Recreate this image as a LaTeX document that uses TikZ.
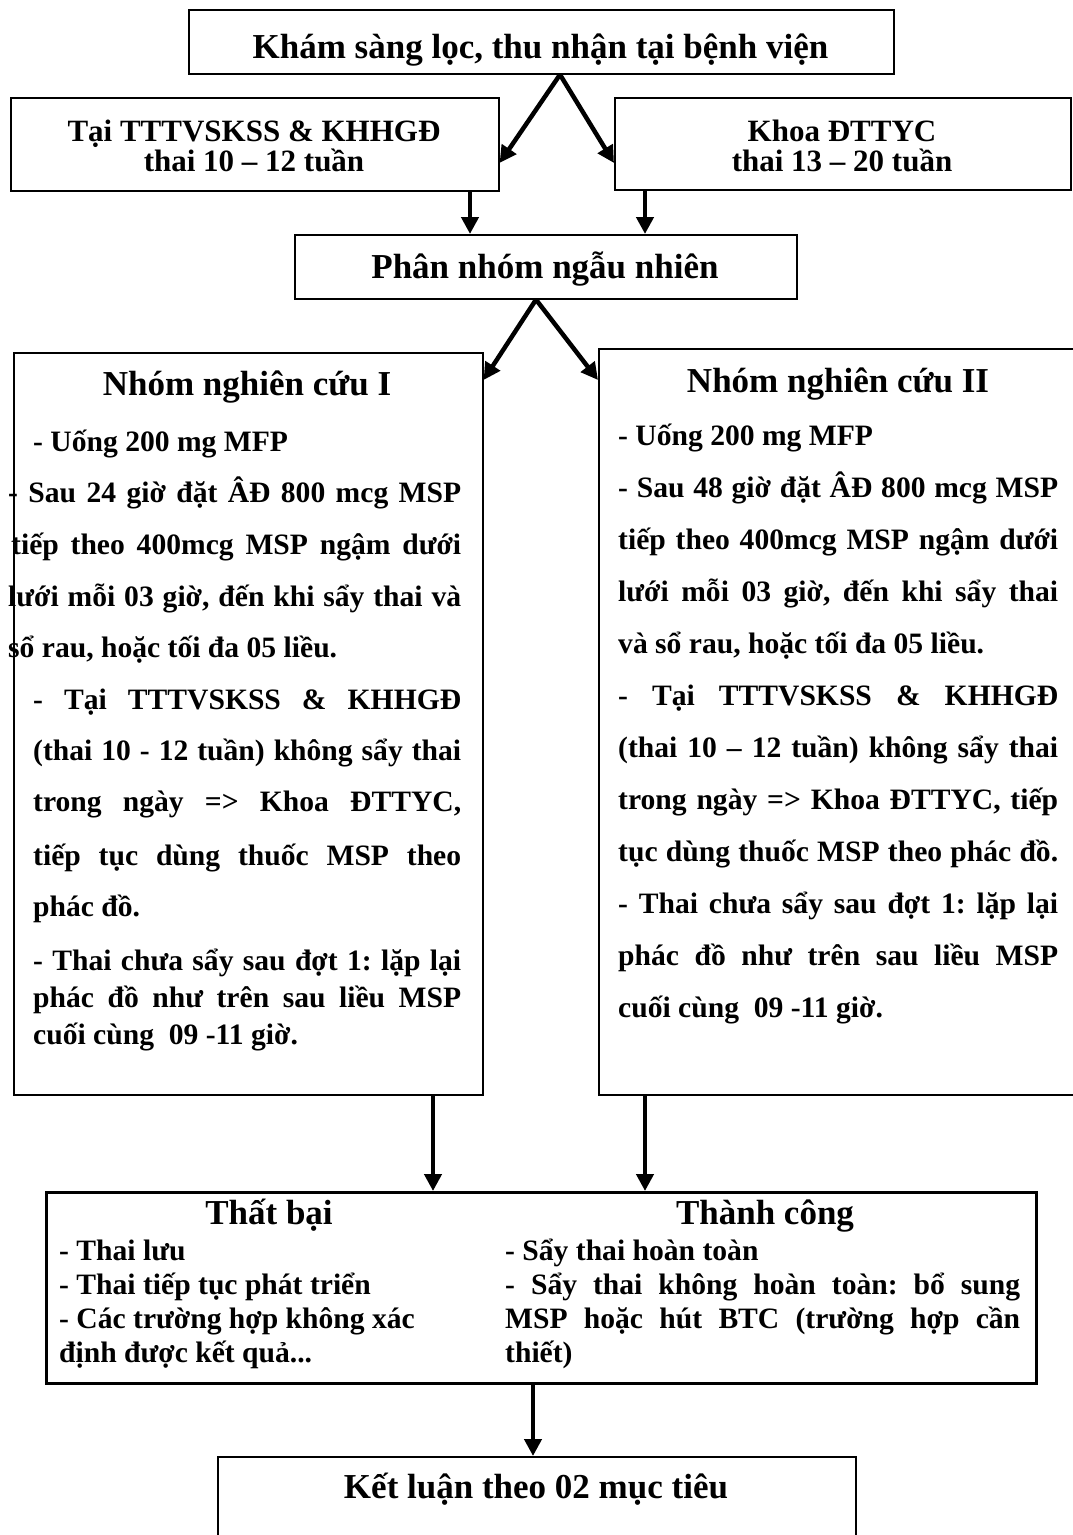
\documentclass[tikz,border=0pt]{standalone}
\usepackage{fontspec}
\setmainfont{Liberation Serif}
\usetikzlibrary{arrows.meta,calc}
\newcommand{\jline}[2]{\makebox[#1][s]{#2}}
\frenchspacing
\begin{document}
\begin{tikzpicture}[x=1pt,y=-1pt,
  box/.style={draw, line width=1.6pt, inner sep=0pt, anchor=north west},
  arr/.style={line width=4.5pt, -{Triangle[length=17pt,width=17pt]}},
  ttl/.style={font=\fontsize{35}{40}\selectfont\bfseries, inner sep=0pt, anchor=base},
  sub/.style={font=\fontsize{31}{36}\selectfont\bfseries, inner sep=0pt, anchor=base},
  bd/.style={font=\fontsize{29.6}{34}\selectfont\bfseries, inner sep=0pt, anchor=base west}]
\useasboundingbox (0,0) rectangle (1073,1535);

% boxes
\node[box, minimum width=705pt, minimum height=64pt] (top) at (188,9) {};
\node[box, minimum width=488pt, minimum height=93pt] (bl) at (10,97) {};
\node[box, minimum width=456pt, minimum height=92pt] (br) at (614,97) {};
\node[box, minimum width=502pt, minimum height=64pt] (rand) at (294,234) {};
\node[box, minimum width=469pt, minimum height=742pt] (g1) at (13,352) {};
\node[box, minimum width=490pt, minimum height=746pt] (g2) at (598,348) {};
\node[box, line width=2.6pt, minimum width=990pt, minimum height=191pt] (res) at (45,1191) {};
\node[box, minimum width=638pt, minimum height=120pt] (fin) at (217,1456) {};

% titles
\node[ttl] (ttop) at (540.5,58) {Khám sàng lọc, thu nhận tại bệnh viện};
\node[sub] (tbl1) at (254,141) {Tại TTTVSKSS \& KHHGĐ};
\node[sub] (tbl2) at (254,171) {thai 10 – 12 tuần};
\node[sub] (tbr1) at (842,141) {Khoa ĐTTYC};
\node[sub] (tbr2) at (842,171) {thai 13 – 20 tuần};
\node[ttl] (trand) at (545,278) {Phân nhóm ngẫu nhiên};
\node[ttl] (tg1) at (247,395) {Nhóm nghiên cứu I};
\node[ttl] (tg2) at (838,392) {Nhóm nghiên cứu II};
\node[ttl] (tfail) at (269,1224) {Thất bại};
\node[ttl] (tsucc) at (765,1224) {Thành công};
\node[ttl] (tfin) at (536,1498) {Kết luận theo 02 mục tiêu};

% group I text
\node[bd] (a1) at (33,451) {- Uống 200 mg MFP};
\node[bd] (a2) at (8,502) {\jline{453pt}{- Sau 24 giờ đặt ÂĐ 800 mcg MSP}};
\node[bd] (a3) at (11,554) {\jline{450pt}{tiếp theo 400mcg MSP ngậm dưới}};
\node[bd] (a4) at (8,606) {\jline{453pt}{lưới mỗi 03 giờ, đến khi sẩy thai và}};
\node[bd] (a5) at (8,657) {sổ rau, hoặc tối đa 05 liều.};
\node[bd] (a6) at (33,709) {\jline{428pt}{- Tại TTTVSKSS \& KHHGĐ}};
\node[bd] (a7) at (33,760) {\jline{428pt}{(thai 10 - 12 tuần) không sẩy thai}};
\node[bd] (a8) at (33,811) {\jline{428pt}{trong ngày => Khoa ĐTTYC,}};
\node[bd] (a9) at (33,865) {\jline{428pt}{tiếp tục dùng thuốc MSP theo}};
\node[bd] (a10) at (33,916) {phác đồ.};
\node[bd] (a11) at (33,970) {\jline{428pt}{- Thai chưa sẩy sau đợt 1: lặp lại}};
\node[bd] (a12) at (33,1007) {\jline{428pt}{phác đồ như trên sau liều MSP}};
\node[bd] (a13) at (33,1044) {cuối cùng\ \ 09 -11 giờ.};

% group II text
\node[bd] (b1) at (618,445) {- Uống 200 mg MFP};
\node[bd] (b2) at (618,497) {\jline{440pt}{- Sau 48 giờ đặt ÂĐ 800 mcg MSP}};
\node[bd] (b3) at (618,549) {\jline{440pt}{tiếp theo 400mcg MSP ngậm dưới}};
\node[bd] (b4) at (618,601) {\jline{440pt}{lưới mỗi 03 giờ, đến khi sẩy thai}};
\node[bd] (b5) at (618,653) {và sổ rau, hoặc tối đa 05 liều.};
\node[bd] (b6) at (618,705) {\jline{440pt}{- Tại TTTVSKSS \& KHHGĐ}};
\node[bd] (b7) at (618,757) {\jline{440pt}{(thai 10 – 12 tuần) không sẩy thai}};
\node[bd] (b8) at (618,809) {\jline{440pt}{trong ngày => Khoa ĐTTYC, tiếp}};
\node[bd] (b9) at (618,861) {\jline{440pt}{tục dùng thuốc MSP theo phác đồ.}};
\node[bd] (b10) at (618,913) {\jline{440pt}{- Thai chưa sẩy sau đợt 1: lặp lại}};
\node[bd] (b11) at (618,965) {\jline{440pt}{phác đồ như trên sau liều MSP}};
\node[bd] (b12) at (618,1017) {cuối cùng\ \ 09 -11 giờ.};

% result text
\node[bd] (c1) at (59,1260) {- Thai lưu};
\node[bd] (c2) at (59,1294) {- Thai tiếp tục phát triển};
\node[bd] (c3) at (59,1328) {- Các trường hợp không xác};
\node[bd] (c4) at (59,1362) {định được kết quả...};
\node[bd] (d1) at (505,1260) {- Sẩy thai hoàn toàn};
\node[bd] (d2) at (505,1294) {\jline{515pt}{- Sẩy thai không hoàn toàn: bổ sung}};
\node[bd] (d3) at (505,1328) {\jline{515pt}{MSP hoặc hút BTC (trường hợp cần}};
\node[bd] (d4) at (505,1362) {thiết)};

% connectors
\coordinate (s1) at ($(top.south west)+(372,0)$);
\draw[arr] (s1) -- (bl.east |- 0,163);
\draw[arr] (s1) -- (br.west |- 0,163);
\draw[arr] (bl.south -| 470,0) -- (rand.north -| 470,0);
\draw[arr] (br.south -| 645,0) -- (rand.north -| 645,0);
\coordinate (s2) at ($(rand.south west)+(242,0)$);
\draw[arr] (s2) -- (g1.east |- 0,380);
\draw[arr] (s2) -- (g2.west |- 0,380);
\draw[arr] (g1.south -| 433,0) -- (res.north -| 433,0);
\draw[arr] (g2.south -| 645,0) -- (res.north -| 645,0);
\draw[arr] (res.south -| 533,0) -- (fin.north -| 533,0);
\end{tikzpicture}
\end{document}
